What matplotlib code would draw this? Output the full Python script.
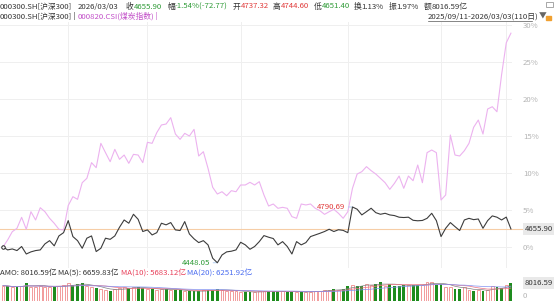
import numpy as np
import pandas as pd
import matplotlib
matplotlib.use("Agg")
import matplotlib.pyplot as plt

plt.rcParams["font.family"] = ["Noto Sans CJK SC", "DejaVu Sans"]

# ---- data ----
hs300_close = [
    4545, 4527, 4533, 4523, 4548, 4502, 4515, 4523, 4527, 4564,
    4584, 4552, 4613, 4633, 4707, 4609, 4584, 4537, 4599, 4613,
    4517, 4537, 4599, 4592, 4613, 4666, 4711, 4691, 4746, 4715,
    4640, 4650, 4619, 4633, 4691, 4681, 4695, 4650, 4646, 4701,
    4625, 4595, 4572, 4584, 4558, 4476, 4448.05, 4496, 4515, 4519,
    4527, 4574, 4558, 4531, 4548, 4578, 4615, 4605, 4597, 4558,
    4578, 4548, 4502, 4578, 4558, 4572, 4609, 4619, 4629, 4640,
    4654, 4640, 4651, 4647, 4633, 4790.69, 4777, 4742, 4762, 4783,
    4756, 4746, 4752, 4742, 4738, 4728, 4726, 4728, 4709, 4706,
    4708, 4721, 4752, 4707, 4609, 4660, 4695, 4670, 4646, 4711,
    4721, 4713, 4717, 4660, 4707, 4736, 4728, 4711, 4728.67, 4655.90,
]
coal_pct = [
    0.0, 0.95, 2.07, 2.52, 4.01, 2.39, 4.77, 3.65, 5.31, 4.77,
    3.88, 3.20, 2.39, 2.30, 5.6, 6.80, 6.44, 8.69, 9.28, 11.40,
    10.72, 14.01, 12.75, 11.53, 13.20, 11.85, 12.43, 11.31, 12.52, 12.43,
    11.40, 14.15, 14.01, 15.45, 16.49, 16.62, 17.48, 15.27, 14.55, 15.36,
    15.0, 15.9, 12.30, 12.88, 10.63, 8.07, 7.16, 7.47, 6.93, 7.61,
    7.47, 8.38, 8.38, 8.74, 8.38, 8.83, 7.03, 5.54, 5.81, 5.23,
    5.36, 5.23, 4.10, 3.88, 5.81, 5.68, 5.81, 5.23, 4.91, 4.41,
    4.77, 5.09, 4.55, 3.88, 4.77, 7.93, 9.86, 10.18, 10.86, 10.32,
    9.86, 9.28, 8.69, 7.79, 8.60, 9.59, 7.93, 9.59, 8.96, 11.08,
    8.69, 12.75, 13.11, 12.75, 6.35, 7.03, 15.14, 12.43, 12.30, 13.01,
    14.01, 16.18, 17.16, 15.27, 18.65, 18.96, 18.28, 23.3, 27.6, 28.9,
]
amount = [  # 亿
    6800, 6500, 6000, 6340, 6500, 8150, 6400, 6300, 6800, 6200,
    6300, 6040, 6500, 6900, 7850, 7250, 7550, 7850, 6500, 6200,
    5740, 5500, 5000, 4230, 5200, 5600, 6340, 5800, 6000, 6340,
    5600, 5280, 5100, 4900, 5280, 5280, 4900, 4830, 4700, 4230,
    4230, 4230, 4500, 4700, 4830, 4830, 5200, 4900, 4600, 4500,
    4300, 4100, 3770, 3770, 4100, 4300, 4400, 4230, 4230, 4230,
    4300, 4100, 4100, 4200, 3770, 4000, 4200, 4400, 4600, 4800,
    5000, 5100, 5000, 5400, 6800, 7250, 6800, 6800, 7550, 6900,
    7550, 8600, 6800, 7550, 6800, 6800, 7000, 6900, 7250, 7100,
    7250, 8300, 8600, 7250, 7550, 6300, 6200, 5285, 5285, 6187.2,
    4950, 4228, 4950, 4530, 4874.05, 6700, 6000, 5700, 6882.56, 8016.59,
]
month_start_idx = [14, 31, 51, 74, 94, 108]
day_open, day_high, day_low, turnover = 4737.32, 4744.60, 4651.40, 1.13
date_str, range_str = "2026/03/03", "2025/09/11-2026/03/03(110日)"

W, H = 554, 301
DARK, RED, GREEN, VIOLET = "#333333", "#e03a3a", "#2e9a36", "#c24fc8"
FS = 5.6

fig = plt.figure(figsize=(W / 100, H / 100), dpi=100)


def rect(x0, y0, x1, y1):
    return [x0 / W, 1 - y1 / H, (x1 - x0) / W, (y1 - y0) / H]


bg = fig.add_axes([0, 0, 1, 1])
bg.set_xlim(0, W)
bg.set_ylim(H, 0)
bg.axis("off")


def chain(x, y, parts, size=FS):
    t = bg.text(x, y, parts[0][0], color=parts[0][1], fontsize=size, va="center", ha="left")
    for s, c in parts[1:]:
        t = bg.annotate(s, xy=(1, 0), xycoords=t, va="bottom", ha="left", color=c, fontsize=size)
    return t


n = len(hs300_close)
idx = np.arange(n)
close = np.array(hs300_close)
hs_pct = (close / close[0] - 1) * 100
chg = close[-1] - close[-2]
chg_pct = chg / close[-2] * 100
amp = (day_high - day_low) / close[-2] * 100

# ---- header ----
chain(0, 6.5, [("000300.SH[沪深300]", DARK)])
chain(78, 6.5, [(date_str, DARK)])
chain(126, 6.5, [("收", DARK), (f"{close[-1]:.2f}", GREEN)])
chain(167, 6.5, [("幅", DARK), (f"{chg_pct:.2f}%({chg:.2f})", GREEN)])
chain(233, 6.5, [("开", DARK), (f"{day_open:.2f}", RED)])
chain(273, 6.5, [("高", DARK), (f"{day_high:.2f}", RED)])
chain(314, 6.5, [("低", DARK), (f"{day_low:.2f}", GREEN)])
chain(354, 6.5, [("换", DARK), (f"{turnover:.2f}%", DARK)])
chain(389, 6.5, [("振", DARK), (f"{amp:.2f}%", DARK)])
chain(424, 6.5, [("额", DARK), (f"{amount[-1]:.2f}亿", DARK)])

chain(0, 16.5, [("000300.SH[沪深300]", DARK), (" | ", DARK),
                ("000820.CSI(煤炭指数)", VIOLET), (" |", VIOLET)])
chain(428, 16.5, [(range_str, DARK), ("▼", "#666666")])
bg.plot([428, 532], [20.5, 20.5], color="#555555", lw=0.5)
# small icons
bg.add_patch(plt.Rectangle((546, 16), 5, 4, color="#f0a030"))
bg.add_patch(plt.Rectangle((546, 2), 7, 5, fill=False, ec="#999999", lw=0.6))

# ---- main chart ----
ax = fig.add_axes(rect(0, 22, 512, 268))
ax.plot(idx, coal_pct, color="#ecb2ef", lw=0.8, zorder=3)
ax.plot(idx, hs_pct, color="#3c3c3c", lw=0.8, zorder=4)
ax.plot([0], [hs_pct[0]], "o", ms=2.5, mfc="white", mec="#222222", mew=0.7, zorder=5)
ax.set_xlim(-0.64, n - 1 + 0.23)
ax.set_ylim(-2.84, 30.41)
ax.set_yticks(range(0, 31, 5))
ax.set_yticklabels([f"{v}%" for v in range(0, 31, 5)])
ax.yaxis.tick_right()
ax.set_xticks(month_start_idx)
ax.set_xticklabels([])
ax.tick_params(length=0)
ax.tick_params(axis="y", pad=8, labelsize=FS, labelcolor="#b4b4b4")
ax.grid(color="#efefef", lw=0.7)
for s in ax.spines.values():
    s.set_visible(False)

last = hs_pct[-1]
ax.axhline(last, xmax=1.02, color="#f6cda6", lw=0.8, clip_on=False, zorder=2)
ax.annotate(f"{close[-1]:.2f}", xy=(1, last), xycoords=("axes fraction", "data"),
            xytext=(9, 0), textcoords="offset points", va="center", ha="left",
            fontsize=FS, color=DARK,
            bbox=dict(boxstyle="square,pad=0.25", fc="#e9e9e9", ec="none"))

imax, imin = int(np.argmax(close)), int(np.argmin(close))
ax.annotate(f"{close[imax]:.2f}", xy=(imax, hs_pct[imax]), xytext=(-5, 0),
            textcoords="offset points", ha="right", va="center", fontsize=FS, color=RED,
            arrowprops=dict(arrowstyle="-", color="#a8c8f0", lw=0.6, shrinkA=0, shrinkB=0))
ax.annotate(f"{close[imin]:.2f}", xy=(imin, hs_pct[imin]), xytext=(-5, 0),
            textcoords="offset points", ha="right", va="center", fontsize=FS, color=GREEN,
            arrowprops=dict(arrowstyle="-", color="#a8c8f0", lw=0.6, shrinkA=0, shrinkB=0))

# ---- amount panel ----
amt = pd.Series(amount)
ma5 = amt.rolling(5, min_periods=1).mean()
ma10 = amt.rolling(10, min_periods=1).mean()
ma20 = amt.rolling(20, min_periods=1).mean()

chain(0, 273.5, [(f"AMO: {amt.iloc[-1]:.2f}亿 ", DARK),
                 (f"MA(5): {ma5.iloc[-1]:.2f}亿 ", DARK),
                 (f"MA(10): {ma10.iloc[-1]:.2f}亿 ", "#e8405a"),
                 (f"MA(20): {ma20.iloc[-1]:.2f}亿", "#4a6cf0")])

vax = fig.add_axes(rect(0, 280, 512, 301))
up = np.r_[True, close[1:] >= close[:-1]]
vax.bar(idx[up], amt[up], width=0.62, facecolor="white", edgecolor="#f08a8a", lw=0.6)
vax.bar(idx[~up], amt[~up], width=0.62, color="#1e8c1e")
vax.plot(idx, ma5, color="#808080", lw=0.5)
vax.plot(idx, ma10, color="#f07080", lw=0.5)
vax.plot(idx, ma20, color="#8090f0", lw=0.5)
vax.set_xlim(ax.get_xlim())
vax.set_ylim(0, 9300)
vax.axis("off")
vax.annotate(f"{amount[-1]:.2f}", xy=(1, amount[-1]), xycoords=("axes fraction", "data"),
             xytext=(9, 0), textcoords="offset points", va="center", ha="left",
             fontsize=FS, color=DARK,
             bbox=dict(boxstyle="square,pad=0.25", fc="#e9e9e9", ec="none"))
bg.text(523, 295.5, "0", fontsize=FS, color="#b4b4b4", va="center", ha="left")

fig.savefig("out.png", dpi=100)
